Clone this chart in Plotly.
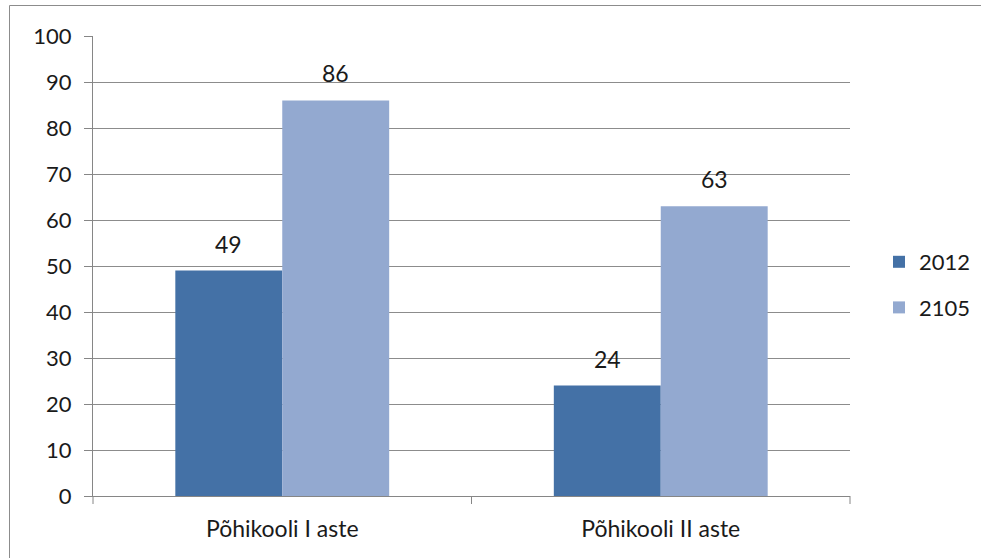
import plotly.graph_objects as go

categories = ["Põhikooli I aste", "Põhikooli II aste"]
series_names = ["2012", "2105"]
values_2012 = [49, 24]
values_2105 = [86, 63]
y_ticks = [0, 10, 20, 30, 40, 50, 60, 70, 80, 90, 100]

colors = ["#4471A6", "#93A9D0"]
font_family = "Lato, 'Open Sans', sans-serif"

L, R, T, B = 93, 131, 36, 62
W, H = 981, 558
pw, ph = W - L - R, H - T - B
bargap = 0.435
bar_px = pw / len(categories) * (1 - bargap) / 2

fig = go.Figure()
annotations = []
for i, (name, vals, col) in enumerate(zip(series_names, [values_2012, values_2105], colors)):
    fig.add_trace(go.Bar(
        x=categories, y=vals, name=name, legendgroup=name,
        marker=dict(color=col, line=dict(width=0)),
    ))
    for c, v in zip(categories, vals):
        annotations.append(dict(
            x=c, y=v, xref="x", yref="y", text=str(v), showarrow=False,
            xanchor="center", yanchor="bottom", yshift=11,
            xshift=(i - 0.5) * bar_px,
            font=dict(size=23, color="#1a1a1a", family=font_family),
        ))

fig.update_layout(
    width=W, height=H,
    margin=dict(l=L, r=R, t=T, b=B, pad=0, autoexpand=False),
    paper_bgcolor="white", plot_bgcolor="white",
    barmode="group", bargap=bargap, bargroupgap=0,
    font=dict(family=font_family, size=22, color="#1a1a1a"),
    showlegend=True,
    legend=dict(xref="container", yref="container", x=879 / W, y=1 - 285 / H,
                xanchor="left", yanchor="middle",
                font=dict(size=22, color="#1a1a1a"), itemwidth=30,
                traceorder="grouped", tracegroupgap=14, bgcolor="rgba(0,0,0,0)"),
    xaxis=dict(showline=True, linecolor="#868686", linewidth=1,
               ticks="", showgrid=False, tickfont=dict(size=23, color="#1a1a1a"),
               ticklabelstandoff=12),
    yaxis=dict(range=[0, 100], tickvals=y_ticks, showgrid=True, gridcolor="#8c8c8c",
               gridwidth=1, showline=True, linecolor="#868686", linewidth=1,
               ticks="outside", ticklen=8, tickcolor="#868686",
               tickfont=dict(size=22, color="#1a1a1a"), zeroline=False,
               ticklabelstandoff=8),
    annotations=annotations,
    shapes=[
        dict(type="rect", xref="paper", yref="paper",
             x0=(9.5 - L) / pw, x1=(1200 - L) / pw,
             y0=(H - 700 - B) / ph, y1=(H - 5.5 - B) / ph,
             line=dict(color="#8c8c8c", width=1), layer="below"),
    ] + [
        dict(type="line", xref="paper", yref="paper", x0=xp, x1=xp,
             y0=0, y1=-8 / ph, line=dict(color="#868686", width=1))
        for xp in [0, 0.5, 1]
    ],
)

fig.write_html("out.html", config={"displayModeBar": False},
               post_script="document.body.style.margin='0';document.body.style.overflow='hidden';")
